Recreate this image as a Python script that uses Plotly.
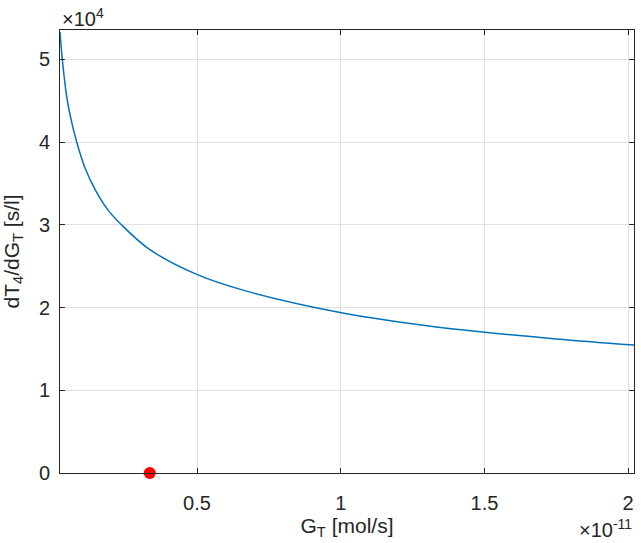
import plotly.graph_objects as go

# G_T in units of 1e-11 mol/s, dT4/dG_T in units of 1e4 s/l
gt = [0.0233, 0.0313, 0.0466, 0.060, 0.0814, 0.110, 0.148, 0.190, 0.237, 0.336, 0.499, 0.66,
      0.998, 1.30, 1.502, 1.75, 2.0205]
dt = [5.33, 5.00, 4.55, 4.30, 4.00, 3.69, 3.41, 3.18, 3.00, 2.70, 2.40, 2.21,
      1.94, 1.78, 1.70, 1.62, 1.546]
pt_x = [0.3356]
pt_y = [0.0]

x_ticks = [0.5, 1, 1.5, 2]
x_ticktext = ["0.5", "1", "1.5", "2"]
y_ticks = [0, 1, 2, 3, 4, 5]
y_ticktext = ["0", "1", "2", "3", "4", "5"]

font = "Liberation Sans"
axcol = "#262626"

fig = go.Figure()
fig.add_trace(go.Scatter(x=gt, y=dt, mode="lines",
                         line=dict(color="#0072BD", width=1.5, shape="spline", smoothing=1.0),
                         showlegend=False))
fig.add_trace(go.Scatter(x=pt_x, y=pt_y, mode="markers", marker=dict(color="#FF0000", size=12),
                         cliponaxis=False, showlegend=False))

axis_common = dict(showline=True, linecolor=axcol, linewidth=1, mirror="ticks", ticks="inside",
                   ticklen=5, tickcolor=axcol, showgrid=True, gridcolor="#e0e0e0", gridwidth=1,
                   zeroline=False, tickfont=dict(family=font, size=20, color=axcol))
fig.update_xaxes(range=[0.0233, 2.0205], tickvals=x_ticks, ticktext=x_ticktext,
                 ticklabelstandoff=12,
                 title=dict(text="G<sub>T</sub> [mol/s]", font=dict(family=font, size=21, color=axcol), standoff=2),
                 **axis_common)
fig.update_yaxes(range=[0, 5.354], tickvals=y_ticks, ticktext=y_ticktext,
                 ticklabelstandoff=5,
                 title=dict(text="dT<sub>4</sub>/dG<sub>T</sub> [s/l]", font=dict(family=font, size=21, color=axcol), standoff=13),
                 **axis_common)

fig.add_annotation(text="×10<sup>4</sup>", xref="paper", yref="paper", x=0, y=1, xanchor="left", yanchor="bottom",
                   showarrow=False, font=dict(family=font, size=20, color=axcol), xshift=0, yshift=-2)
fig.add_annotation(text="×10<sup>-11</sup>", xref="paper", yref="paper", x=1, y=0, xanchor="right", yanchor="top",
                   showarrow=False, font=dict(family=font, size=20, color=axcol), xshift=0, yshift=-41)

fig.update_layout(width=641, height=543, margin=dict(l=60, r=7, t=30, b=70),
                  plot_bgcolor="white", paper_bgcolor="white",
                  font=dict(family=font, size=20, color=axcol))
fig.write_html("out.html", config={"displayModeBar": False},
               post_script="document.body.style.margin='0';")
